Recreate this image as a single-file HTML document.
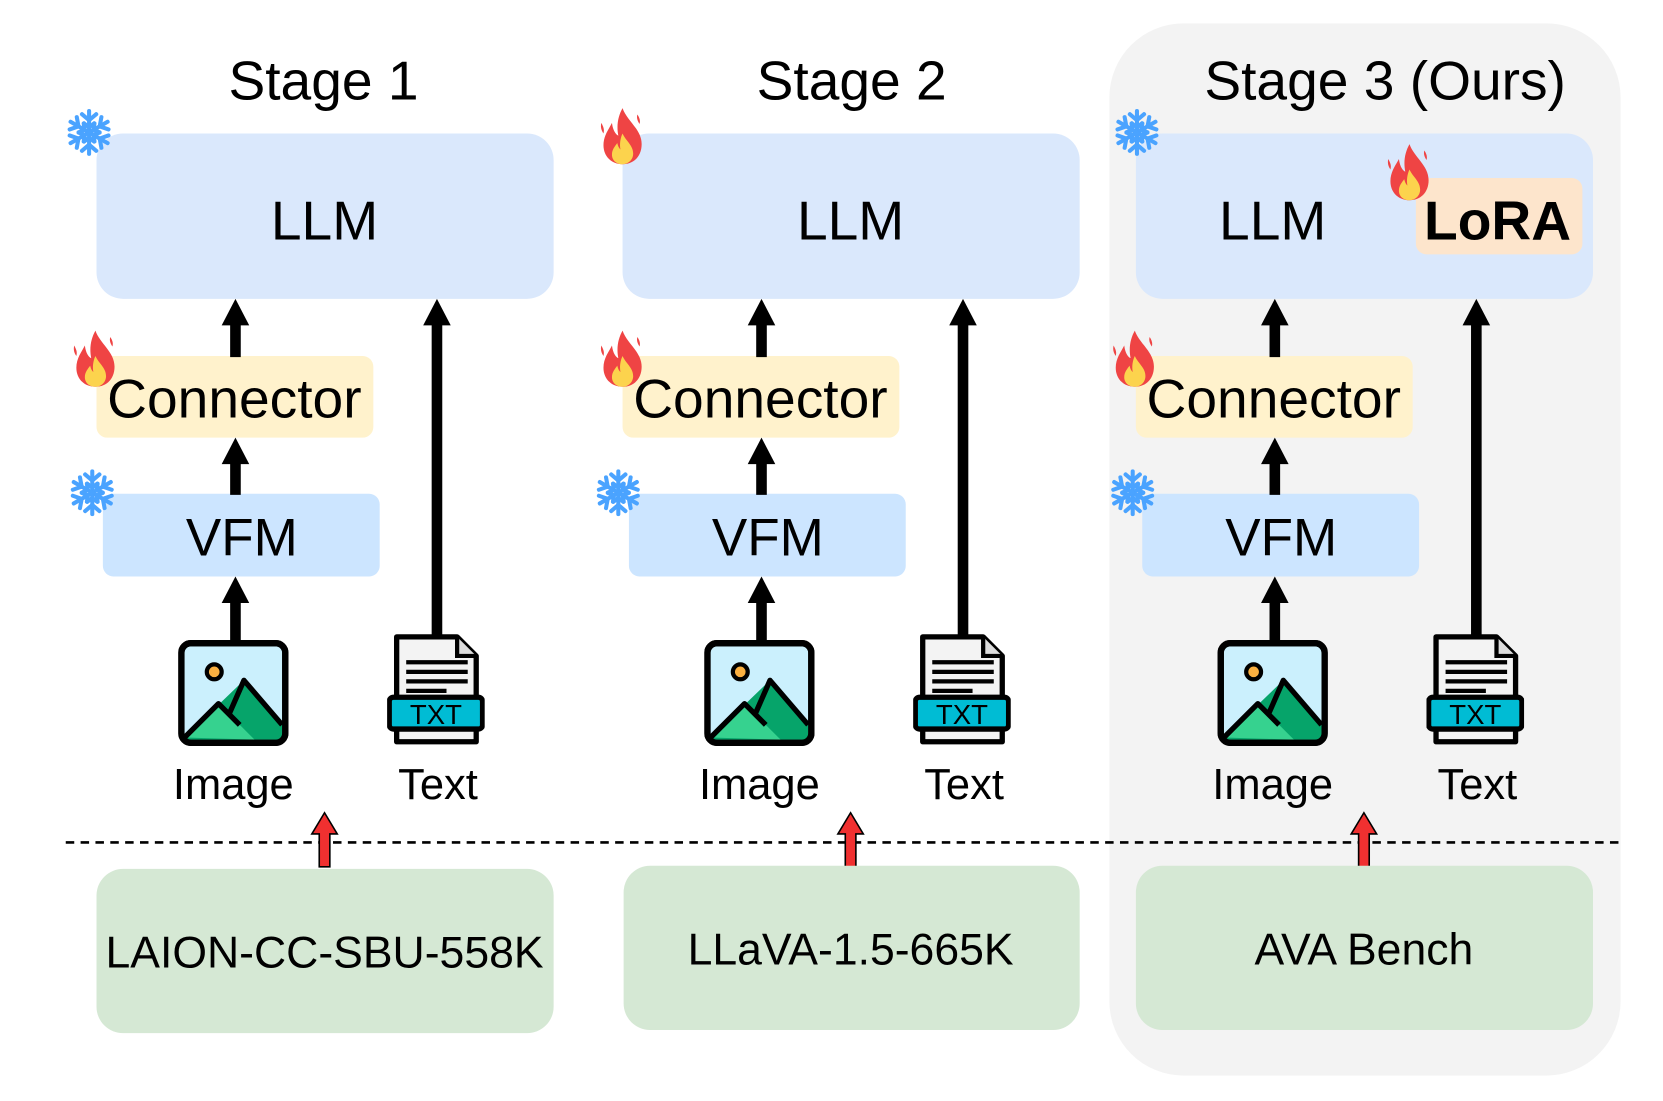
<!DOCTYPE html>
<html><head><meta charset="utf-8"><style>
html,body{margin:0;padding:0;background:#fff;}
svg{display:block;}
text{font-family:"Liberation Sans",Arial,sans-serif;fill:#000;}
</style></head><body>
<svg width="1663" height="1101" viewBox="0 0 1568 1039" preserveAspectRatio="none" xmlns="http://www.w3.org/2000/svg">
<defs>
  <symbol id="snow" viewBox="-25 -25 50 50">
    <g stroke="#4aa3ff" stroke-width="4" stroke-linecap="round" fill="none">
      <g><line x1="0" y1="0" x2="0" y2="-21"/><polyline points="-7,-18 0,-12 7,-18"/><polyline points="-5,-9 0,-5 5,-9"/></g>
      <g transform="rotate(60)"><line x1="0" y1="0" x2="0" y2="-21"/><polyline points="-7,-18 0,-12 7,-18"/><polyline points="-5,-9 0,-5 5,-9"/></g>
      <g transform="rotate(120)"><line x1="0" y1="0" x2="0" y2="-21"/><polyline points="-7,-18 0,-12 7,-18"/><polyline points="-5,-9 0,-5 5,-9"/></g>
      <g transform="rotate(180)"><line x1="0" y1="0" x2="0" y2="-21"/><polyline points="-7,-18 0,-12 7,-18"/><polyline points="-5,-9 0,-5 5,-9"/></g>
      <g transform="rotate(240)"><line x1="0" y1="0" x2="0" y2="-21"/><polyline points="-7,-18 0,-12 7,-18"/><polyline points="-5,-9 0,-5 5,-9"/></g>
      <g transform="rotate(300)"><line x1="0" y1="0" x2="0" y2="-21"/><polyline points="-7,-18 0,-12 7,-18"/><polyline points="-5,-9 0,-5 5,-9"/></g>
    </g>
  </symbol>
  <symbol id="fire" viewBox="0 0 44 56">
    <path d="M22 2 C26 14 40 22 40 36 C40 48 32 55 22 55 C12 55 4 48 4 37 C4 28 9 22 12 16 C13 24 16 27 18 28 C16 18 18 9 22 2Z" fill="#ef4444"/>
    <path d="M2 16 C4 20 5 22 4 26 C2 23 1 20 2 16Z M36 8 C38 11 39 14 38 17 C36 14 35 11 36 8Z" fill="#ef4444"/>
    <path d="M22 26 C25 33 32 37 32 45 C32 51 27 55 22 55 C16 55 12 51 12 46 C12 41 15 38 17 35 C18 39 19 40 20 41 C19 36 20 30 22 26Z" fill="#fcd34d"/>
  </symbol>
  <symbol id="img" viewBox="0 0 104 100">
    <rect x="3" y="3" width="98" height="94" rx="9" fill="#cbf0fd" stroke="#000" stroke-width="6"/>
    <path d="M6 92 L62 38 L98 78 L98 90 Q98 94 94 94 L8 94Z" fill="#06a46a"/>
    <path d="M6 92 L38 60 L72 94 Z" fill="#36d28f"/>
    <path d="M6 92 L38 60 L58 80 M48 70 L62 38 L98 80" fill="none" stroke="#000" stroke-width="5" stroke-linejoin="round"/>
    <rect x="3" y="3" width="98" height="94" rx="9" fill="none" stroke="#000" stroke-width="6"/>
    <circle cx="34" cy="30" r="7" fill="#fbb040" stroke="#000" stroke-width="4"/>
  </symbol>
  <symbol id="txt" viewBox="0 0 92 106">
    <path d="M9 3 L66 3 L84 21 L84 102 L9 102Z" fill="#f3f3f3" stroke="#000" stroke-width="5" stroke-linejoin="round"/>
    <path d="M66 3 L66 21 L84 21" fill="#ddd" stroke="#000" stroke-width="4"/>
    <g stroke="#000" stroke-width="4"><line x1="18" y1="27" x2="76" y2="27"/><line x1="18" y1="36" x2="76" y2="36"/><line x1="18" y1="45" x2="76" y2="45"/><line x1="18" y1="54" x2="56" y2="54"/></g>
    <rect x="2" y="60" width="88" height="30" rx="4" fill="#00bcd4" stroke="#000" stroke-width="5"/>
    <text x="46" y="85" text-anchor="middle" font-size="26" style="font-family:'Liberation Sans',sans-serif" fill="#000">TXT</text>
  </symbol>
</defs>

<rect x="1046" y="22" width="482" height="993" rx="70" fill="#f3f3f3"/>
<line x1="62" y1="795" x2="1528" y2="795" stroke="#000" stroke-width="2.5" stroke-dasharray="8,6"/>

<text x="305" y="94" font-size="52" text-anchor="middle">Stage 1</text>
<text x="803" y="94" font-size="52" text-anchor="middle">Stage 2</text>
<text x="1306" y="94" font-size="52" text-anchor="middle">Stage 3 (Ours)</text>

<g id="stage">
  <rect x="91" y="126" width="431" height="156" rx="25" fill="#dae8fc"/>
  <rect x="91" y="336" width="261" height="77" rx="10" fill="#fff2cc"/>
  <text x="221" y="394" font-size="52" text-anchor="middle">Connector</text>
  <rect x="97" y="466" width="261" height="78" rx="10" fill="#cce5ff"/>
  <text x="228" y="524" font-size="50" text-anchor="middle">VFM</text>
  <g fill="#000">
    <rect x="217" y="305" width="10" height="32"/><polygon points="209,307 222,282 235,307"/>
    <rect x="217" y="436" width="10" height="31"/><polygon points="209,438 222,413 235,438"/>
    <rect x="217" y="567" width="10" height="40"/><polygon points="209,569 222,544 235,569"/>
    <rect x="407" y="305" width="10" height="296"/><polygon points="399,307 412,282 425,307"/>
  </g>
  <use href="#img" x="168" y="604" width="104" height="100"/>
  <use href="#txt" x="365" y="598" width="92" height="106"/>
  <text x="220" y="754" font-size="41" text-anchor="middle">Image</text>
  <text x="413" y="754" font-size="41" text-anchor="middle">Text</text>
  <polygon points="301,818 301,787 294,787 306,767 318,787 311,787 311,818" fill="#f03030" stroke="#000" stroke-width="1.5"/>
</g>
<use href="#stage" x="496" y="0"/>
<use href="#stage" x="980" y="0"/>

<text x="306" y="226" font-size="52" text-anchor="middle">LLM</text>
<text x="802" y="226" font-size="52" text-anchor="middle">LLM</text>
<text x="1200" y="226" font-size="52" text-anchor="middle">LLM</text>

<rect x="1335" y="168" width="157" height="72" rx="10" fill="#fde5cc"/>
<text x="1412" y="226" font-size="52" font-weight="bold" text-anchor="middle">LoRA</text>

<rect x="91" y="820" width="431" height="155" rx="25" fill="#d5e8d4"/>
<rect x="588" y="817" width="430" height="155" rx="25" fill="#d5e8d4"/>
<rect x="1071" y="817" width="431" height="155" rx="25" fill="#d5e8d4"/>
<text x="306" y="913" font-size="42" text-anchor="middle">LAION-CC-SBU-558K</text>
<text x="802" y="910" font-size="42" text-anchor="middle">LLaVA-1.5-665K</text>
<text x="1286" y="910" font-size="42" text-anchor="middle">AVA Bench</text>

<use href="#snow" x="60" y="101" width="48" height="48"/>
<use href="#snow" x="63" y="441" width="48" height="48"/>
<use href="#snow" x="559" y="441" width="48" height="48"/>
<use href="#snow" x="1048" y="101" width="48" height="48"/>
<use href="#snow" x="1044" y="441" width="48" height="48"/>
<use href="#fire" x="565" y="100" width="44" height="56"/>
<use href="#fire" x="68" y="310" width="44" height="56"/>
<use href="#fire" x="565" y="310" width="44" height="56"/>
<use href="#fire" x="1048" y="310" width="44" height="56"/>
<use href="#fire" x="1307" y="134" width="44" height="56"/>
</svg>
</body></html>
